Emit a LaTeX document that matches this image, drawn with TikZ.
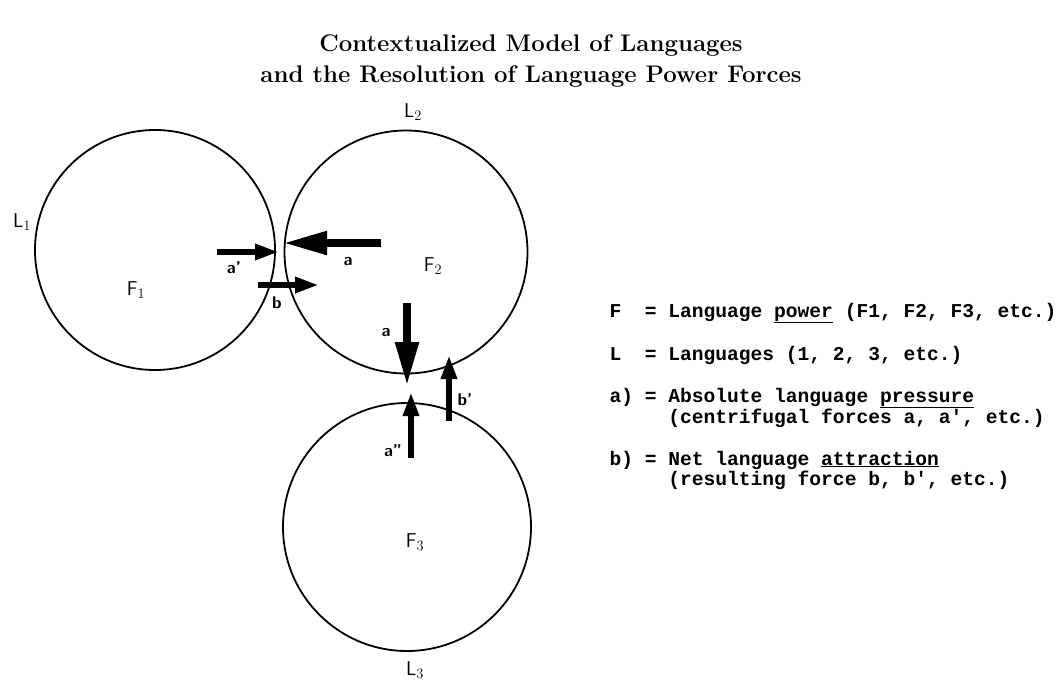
\documentclass[tikz,border=0pt]{standalone}
\usepackage{fontspec}
\setmonofont{Liberation Mono}
\usepackage{tikz}
\usetikzlibrary{arrows.meta,positioning}

\begin{document}
\begin{tikzpicture}[x=1pt,y=-1pt,
   lang/.style={draw,circle,line width=1.8pt,inner sep=0pt,minimum size=#1},
   tag/.style={font=\sffamily\fontsize{20}{22}\selectfont},
   flab/.style={font=\sffamily\bfseries\fontsize{17}{19}\selectfont},
   bigforce/.style={line width=8pt,-{Triangle[length=44pt,width=22pt]}},
   force/.style={line width=6pt,-{Triangle[length=24pt,width=15pt]}},
   key/.style={anchor=west,font=\ttfamily\bfseries\fontsize{19.6}{21}\selectfont}]
  \useasboundingbox (0,0) rectangle (1063,680);
  % title
  \node[align=center,font=\bfseries\fontsize{24}{31}\selectfont] (title) at (531,61)
    {Contextualized Model of Languages\\and the Resolution of Language Power Forces};
  % the three languages
  \node[lang=240pt] (c1) at (155,250) {};
  \node[lang=243pt] (c2) at (406,252) {};
  \node[lang=248pt] (c3) at (407,527) {};
  \node[tag] (l1) at (22,222) {L$_1$};
  \node[tag] (l2) at (413,112) {L$_2$};
  \node[tag] (l3) at (415,670) {L$_3$};
  \node[tag] (f1) at (136,290) {F$_1$};
  \node[tag] (f2) at (433,266) {F$_2$};
  \node[tag] (f3) at (415,542) {F$_3$};
  % forces between L1 and L2
  \coordinate (ap0) at (217,252); \coordinate (ap1) at (279,252);
  \coordinate (a0) at (381,243);  \coordinate (a1) at (283,243);
  \coordinate (b0) at (258,285);  \coordinate (b1) at (319,285);
  \draw[force] (ap0) -- (ap1);
  \draw[bigforce] (a0) -- (a1);
  \draw[force] (b0) -- (b1);
  \node[flab] (lap) at (234,268) {a'};
  \node[flab] (la) at (348,262) {a};
  \node[flab] (lb) at (277,303) {b};
  % forces between L2 and L3
  \coordinate (d0) at (407,303);  \coordinate (d1) at (407,386);
  \coordinate (bq0) at (449,421); \coordinate (bq1) at (449,355);
  \coordinate (app0) at (411,458); \coordinate (app1) at (411,392);
  \draw[bigforce] (d0) -- (d1);
  \draw[force] (bq0) -- (bq1);
  \draw[force] (app0) -- (app1);
  \node[flab] (ld) at (386,333) {a};
  \node[flab] (lbq) at (465,400) {b'};
  \node[flab] (lapp) at (393,451) {a''};
  % legend
  \node[key] (kf) at (606,313) {F~~=~Language \underline{power} (F1, F2, F3, etc.)};
  \node[key] (kl) at (606,355) {L~~=~Languages (1, 2, 3, etc.)};
  \node[key] (ka) at (606,398) {a)~=~Absolute language \underline{pressure}};
  \node[key] (ka2) at (606,418) {~~~~~(centrifugal forces a, a', etc.)};
  \node[key] (kb) at (606,460) {b)~=~Net language \underline{attraction}};
  \node[key] (kb2) at (606,480) {~~~~~(resulting force b, b', etc.)};
\end{tikzpicture}
\end{document}
